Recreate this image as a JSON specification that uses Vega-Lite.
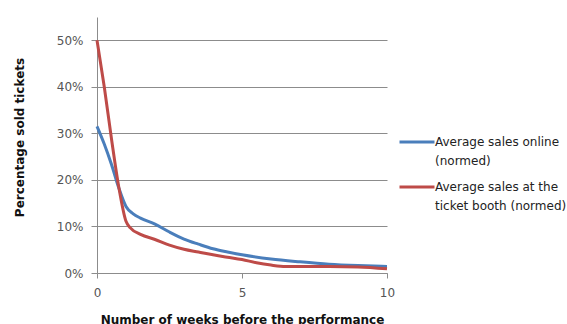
{
  "$schema": "https://vega.github.io/schema/vega-lite/v6.json",
  "width": 290,
  "height": 256,
  "autosize": "none",
  "padding": {"left": 97, "top": 17, "right": 180, "bottom": 51},
  "background": "white",
  "config": {
    "view": {"stroke": null},
    "font": "DejaVu Sans"
  },
  "data": {
    "values": [
      {"week": 0, "pct": 0.315, "series": "online"},
      {"week": 0.25, "pct": 0.277, "series": "online"},
      {"week": 0.5, "pct": 0.233, "series": "online"},
      {"week": 0.75, "pct": 0.183, "series": "online"},
      {"week": 1.0, "pct": 0.143, "series": "online"},
      {"week": 1.25, "pct": 0.127, "series": "online"},
      {"week": 1.5, "pct": 0.118, "series": "online"},
      {"week": 2.0, "pct": 0.105, "series": "online"},
      {"week": 2.5, "pct": 0.088, "series": "online"},
      {"week": 3.0, "pct": 0.073, "series": "online"},
      {"week": 3.5, "pct": 0.062, "series": "online"},
      {"week": 4.0, "pct": 0.052, "series": "online"},
      {"week": 4.5, "pct": 0.045, "series": "online"},
      {"week": 5.0, "pct": 0.039, "series": "online"},
      {"week": 6.0, "pct": 0.030, "series": "online"},
      {"week": 7.0, "pct": 0.024, "series": "online"},
      {"week": 8.0, "pct": 0.019, "series": "online"},
      {"week": 9.0, "pct": 0.016, "series": "online"},
      {"week": 10.0, "pct": 0.014, "series": "online"},
      {"week": 0, "pct": 0.50, "series": "booth"},
      {"week": 0.25, "pct": 0.40, "series": "booth"},
      {"week": 0.5, "pct": 0.288, "series": "booth"},
      {"week": 0.75, "pct": 0.185, "series": "booth"},
      {"week": 1.0, "pct": 0.111, "series": "booth"},
      {"week": 1.15, "pct": 0.097, "series": "booth"},
      {"week": 1.5, "pct": 0.083, "series": "booth"},
      {"week": 2.0, "pct": 0.072, "series": "booth"},
      {"week": 2.5, "pct": 0.060, "series": "booth"},
      {"week": 3.0, "pct": 0.051, "series": "booth"},
      {"week": 3.5, "pct": 0.045, "series": "booth"},
      {"week": 4.0, "pct": 0.039, "series": "booth"},
      {"week": 4.5, "pct": 0.034, "series": "booth"},
      {"week": 5.0, "pct": 0.029, "series": "booth"},
      {"week": 5.5, "pct": 0.022, "series": "booth"},
      {"week": 6.0, "pct": 0.017, "series": "booth"},
      {"week": 6.5, "pct": 0.014, "series": "booth"},
      {"week": 7.0, "pct": 0.014, "series": "booth"},
      {"week": 8.0, "pct": 0.014, "series": "booth"},
      {"week": 9.0, "pct": 0.013, "series": "booth"},
      {"week": 10.0, "pct": 0.009, "series": "booth"}
    ]
  },
  "mark": {"type": "line", "interpolate": "monotone", "strokeWidth": 3},
  "encoding": {
    "x": {
      "field": "week",
      "type": "quantitative",
      "scale": {"domain": [0, 10], "nice": false},
      "axis": {
        "values": [0, 5, 10],
        "grid": false,
        "title": "Number of weeks before the performance",
        "titleFont": "DejaVu Sans",
        "titleFontSize": 12,
        "titleFontWeight": "bold",
        "titleColor": "#111111",
        "titleY": 46,
        "titleBaseline": "middle",
        "labelFont": "DejaVu Sans",
        "labelFontSize": 12,
        "labelColor": "#555555",
        "labelPadding": 9,
        "tickSize": 5,
        "tickColor": "#8c8c8c",
        "domainColor": "#8c8c8c",
        "labelFlush": false
      }
    },
    "y": {
      "field": "pct",
      "type": "quantitative",
      "scale": {"domain": [0, 0.55], "nice": false},
      "axis": {
        "values": [0, 0.1, 0.2, 0.3, 0.4, 0.5],
        "format": ".0%",
        "grid": true,
        "gridColor": "#8c8c8c",
        "gridWidth": 1,
        "title": "Percentage sold tickets",
        "titleFont": "DejaVu Sans",
        "titleFontSize": 12,
        "titleFontWeight": "bold",
        "titleColor": "#111111",
        "titleAngle": 270,
        "titleX": -78,
        "titleY": 120,
        "titleAlign": "center",
        "titleBaseline": "middle",
        "labelFont": "DejaVu Sans",
        "labelFontSize": 12,
        "labelColor": "#555555",
        "labelPadding": 8,
        "tickSize": 6,
        "tickColor": "#8c8c8c",
        "domainColor": "#8c8c8c"
      }
    },
    "color": {
      "field": "series",
      "type": "nominal",
      "scale": {"domain": ["online", "booth"], "range": ["#4a7ebb", "#be4b48"]},
      "legend": {
        "title": null,
        "orient": "none",
        "legendX": 301,
        "legendY": 106,
        "symbolType": "stroke",
        "symbolSize": 1225,
        "symbolStrokeWidth": 3,
        "labelOffset": -1,
        "labelFont": "DejaVu Sans",
        "labelFontSize": 12,
        "labelColor": "#222222",
        "labelLimit": 200,
        "labelBaseline": "middle",
        "rowPadding": 1,
        "labelExpr": "datum.value == 'online' ? ['Average sales online', '(normed)'] : ['Average sales at the', 'ticket booth (normed)']",
        "encode": {"labels": {"update": {"lineHeight": {"value": 19}}}}
      }
    }
  }
}
